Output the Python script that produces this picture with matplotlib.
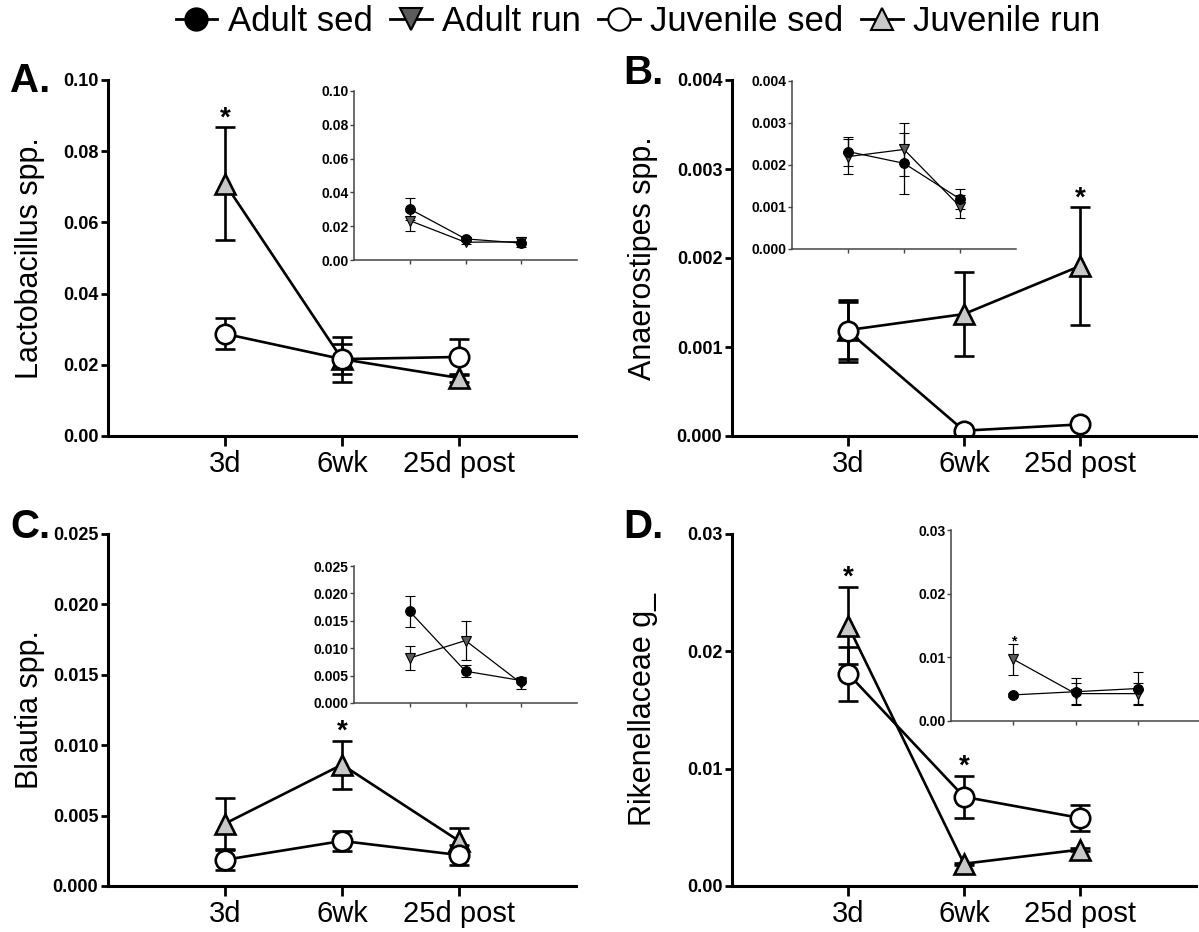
import matplotlib
matplotlib.use('Agg')
import matplotlib.pyplot as plt
from matplotlib.lines import Line2D
import numpy as np

plt.rcParams['font.family'] = ['Liberation Sans', 'DejaVu Sans']

timepoints = ['3d', '6wk', '25d post']

# A. Lactobacillus spp.
lacto_juv_sed = [0.0287, 0.0216, 0.0222]
lacto_juv_sed_err = [0.0044, 0.0042, 0.0050]
lacto_juv_run = [0.0709, 0.0216, 0.0163]
lacto_juv_run_err = [0.0158, 0.0063, 0.0012]
lacto_adult_sed = [0.0302, 0.0125, 0.0100]
lacto_adult_sed_err = [0.0064, 0.0010, 0.0008]
lacto_adult_run = [0.0233, 0.0105, 0.0108]
lacto_adult_run_err = [0.0059, 0.0008, 0.0030]
lacto_juv_run_sig = [0]

# B. Anaerostipes spp.
anaero_juv_sed = [0.00118, 0.00006, 0.00013]
anaero_juv_sed_err = [0.00035, 0.00002, 0.00003]
anaero_juv_run = [0.00119, 0.00137, 0.00191]
anaero_juv_run_err = [0.00032, 0.00047, 0.00066]
anaero_adult_sed = [0.00232, 0.00204, 0.00119]
anaero_adult_sed_err = [0.00035, 0.00073, 0.00024]
anaero_adult_run = [0.00220, 0.00237, 0.00101]
anaero_adult_run_err = [0.00042, 0.00062, 0.00027]
anaero_juv_run_sig = [2]

# C. Blautia spp.
blautia_juv_sed = [0.00186, 0.0032, 0.0022]
blautia_juv_sed_err = [0.0007, 0.0007, 0.0007]
blautia_juv_run = [0.00443, 0.00862, 0.0032]
blautia_juv_run_err = [0.0018, 0.0017, 0.0009]
blautia_adult_sed = [0.0167, 0.0058, 0.0041]
blautia_adult_sed_err = [0.0028, 0.0011, 0.0005]
blautia_adult_run = [0.0082, 0.0114, 0.0036]
blautia_adult_run_err = [0.0022, 0.0035, 0.0011]
blautia_juv_run_sig = [1]

# D. Rikenellaceae g_
riken_juv_sed = [0.0181, 0.0076, 0.0058]
riken_juv_sed_err = [0.0023, 0.0018, 0.0011]
riken_juv_run = [0.0222, 0.0019, 0.0031]
riken_juv_run_err = [0.0033, 0.0001, 0.0001]
riken_adult_sed = [0.0041, 0.0046, 0.0051]
riken_adult_sed_err = [0.0003, 0.0021, 0.0026]
riken_adult_run = [0.0097, 0.0043, 0.0043]
riken_adult_run_err = [0.0024, 0.0016, 0.0017]
riken_juv_sed_sig = [1]
riken_juv_run_sig = [0]
riken_adult_run_sig = [0]

styles = {
    'Adult sed': dict(marker='o', mfc='black'),
    'Adult run': dict(marker='v', mfc='#5c5c5c'),
    'Juvenile sed': dict(marker='o', mfc='white'),
    'Juvenile run': dict(marker='^', mfc='#c8c8c8'),
}

W, H = 1199, 932
fig = plt.figure(figsize=(W / 100, H / 100), dpi=100)


def px_axes(x0, y0, x1, y1):
    # pixel box (top-left origin) -> figure fraction
    return fig.add_axes([x0 / W, 1 - y1 / H, (x1 - x0) / W, (y1 - y0) / H])


def draw(ax, vals, errs, name, big, sig=()):
    x = np.arange(len(vals))
    st = styles[name]
    if big:
        ms, lw, cs, sfs = 14, 1.9, 7, 20
    else:
        ms, lw, cs, sfs = 7, 0.9, 3.5, 10
    ax.errorbar(x, vals, yerr=errs, color='black', lw=lw, marker=st['marker'],
                mfc=st['mfc'], mec='black', mew=lw if big else 0.8, ms=ms,
                capsize=cs, capthick=lw, elinewidth=lw)
    for i in sig:
        ax.annotate('*', xy=(i, vals[i] + errs[i]), xytext=(0, -3),
                    textcoords='offset points', ha='center', va='bottom',
                    fontsize=sfs, fontweight='bold')


def style(ax, top, step, fmt, big):
    ax.set_xlim(-1, 3)
    ax.set_ylim(0, top)
    ticks = np.arange(0, top + step / 2, step)
    ax.set_yticks(ticks)
    ax.set_yticklabels([fmt.format(t) for t in ticks])
    ax.set_xticks(range(3))
    ax.spines[['top', 'right']].set_visible(False)
    ax.patch.set_alpha(0)
    if big:
        for s in ('left', 'bottom'):
            ax.spines[s].set_linewidth(2.2)
        ax.set_xticklabels(timepoints, fontsize=21)
        ax.tick_params(axis='y', width=2, length=5, labelsize=13, pad=2)
        ax.tick_params(axis='x', width=2, length=7, pad=3)
    else:
        for s in ('left', 'bottom'):
            ax.spines[s].set_linewidth(1.1)
            ax.spines[s].set_color('#444444')
        ax.set_xticklabels([])
        ax.tick_params(axis='both', width=1, length=3, labelsize=10, pad=1,
                       color='#444444')
    for lab in ax.get_yticklabels():
        lab.set_fontweight('bold')


# main axes
axA = px_axes(108, 80, 576, 436)
axB = px_axes(732, 80, 1196, 436)
axC = px_axes(108, 534, 576, 886)
axD = px_axes(732, 534, 1196, 886)
# insets
inA = px_axes(354, 91, 577, 260)
inB = px_axes(792, 81, 1016, 249)
inC = px_axes(354, 566, 577, 703)
inD = px_axes(951, 530, 1200, 721)

draw(axA, lacto_juv_run, lacto_juv_run_err, 'Juvenile run', True, lacto_juv_run_sig)
draw(axA, lacto_juv_sed, lacto_juv_sed_err, 'Juvenile sed', True)
draw(inA, lacto_adult_run, lacto_adult_run_err, 'Adult run', False)
draw(inA, lacto_adult_sed, lacto_adult_sed_err, 'Adult sed', False)
style(axA, 0.10, 0.02, '{:.2f}', True)
style(inA, 0.10, 0.02, '{:.2f}', False)

draw(axB, anaero_juv_run, anaero_juv_run_err, 'Juvenile run', True, anaero_juv_run_sig)
draw(axB, anaero_juv_sed, anaero_juv_sed_err, 'Juvenile sed', True)
draw(inB, anaero_adult_run, anaero_adult_run_err, 'Adult run', False)
draw(inB, anaero_adult_sed, anaero_adult_sed_err, 'Adult sed', False)
style(axB, 0.004, 0.001, '{:.3f}', True)
style(inB, 0.004, 0.001, '{:.3f}', False)

draw(axC, blautia_juv_run, blautia_juv_run_err, 'Juvenile run', True, blautia_juv_run_sig)
draw(axC, blautia_juv_sed, blautia_juv_sed_err, 'Juvenile sed', True)
draw(inC, blautia_adult_run, blautia_adult_run_err, 'Adult run', False)
draw(inC, blautia_adult_sed, blautia_adult_sed_err, 'Adult sed', False)
style(axC, 0.025, 0.005, '{:.3f}', True)
style(inC, 0.025, 0.005, '{:.3f}', False)

draw(axD, riken_juv_run, riken_juv_run_err, 'Juvenile run', True, riken_juv_run_sig)
draw(axD, riken_juv_sed, riken_juv_sed_err, 'Juvenile sed', True, riken_juv_sed_sig)
draw(inD, riken_adult_run, riken_adult_run_err, 'Adult run', False, riken_adult_run_sig)
draw(inD, riken_adult_sed, riken_adult_sed_err, 'Adult sed', False)
style(axD, 0.03, 0.01, '{:.2f}', True)
style(inD, 0.03, 0.01, '{:.2f}', False)

# y labels and panel letters
for xpx, ax, txt in [(30, axA, 'Lactobacillus spp.'), (643, axB, 'Anaerostipes spp.'),
                     (30, axC, 'Blautia spp.'), (643, axD, 'Rikenellaceae g_')]:
    pos = ax.get_position()
    fig.text(xpx / W, pos.y0 + pos.height / 2, txt, rotation=90, ha='center',
             va='center', fontsize=22)

for xpx, ypx, letter in [(10, 92, 'A.'), (623, 84, 'B.'), (10, 538, 'C.'), (623, 538, 'D.')]:
    fig.text(xpx / W, 1 - ypx / H, letter, fontsize=29, fontweight='bold',
             ha='left', va='baseline')

handles = [Line2D([0], [0], color='black', lw=2, marker=styles[n]['marker'],
                  mfc=styles[n]['mfc'], mec='black', mew=1.5, ms=16)
           for n in styles]
fig.legend(handles, list(styles), loc='upper center', bbox_to_anchor=(0.532, 1.0),
           ncol=4, frameon=False, fontsize=25, handlelength=1.2, borderpad=0.15,
           handletextpad=0.3, columnspacing=0.5, borderaxespad=0.)

fig.savefig('out.png', dpi=100)
